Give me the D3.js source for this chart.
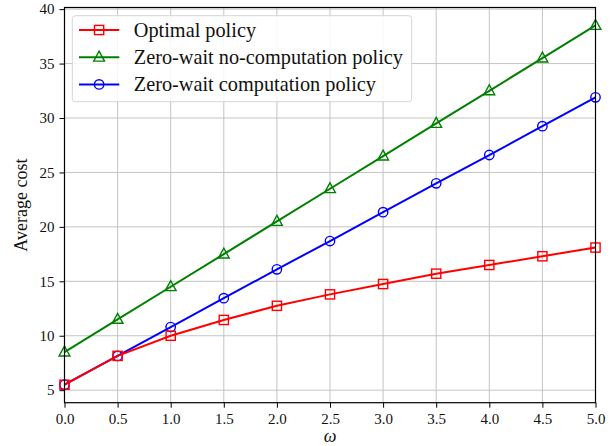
<!DOCTYPE html>
<html>
<head>
<meta charset="utf-8">
<script src="https://cdn.jsdelivr.net/npm/d3@7"></script>
<style>
  body { margin: 0; background: #fff; }
  text { font-family: "Liberation Serif", "Times New Roman", serif; fill: #111; }
</style>
</head>
<body>
<div id="chart"></div>
<script>
// data
var omega = [0, 0.5, 1, 1.5, 2, 2.5, 3, 3.5, 4, 4.5, 5];
var optimalCost = [5.5, 8.15, 10.0, 11.45, 12.75, 13.8, 14.75, 15.7, 16.5, 17.3, 18.1];
var noCompCost = [8.5, 11.5, 14.5, 17.5, 20.5, 23.5, 26.5, 29.5, 32.5, 35.5, 38.5];
var compCost = [5.5, 8.15, 10.8, 13.45, 16.1, 18.7, 21.35, 24.0, 26.6, 29.25, 31.9];
var xTicks = [0, 0.5, 1, 1.5, 2, 2.5, 3, 3.5, 4, 4.5, 5];
var yTicks = [5, 10, 15, 20, 25, 30, 35, 40];
var seriesNames = ["Optimal policy", "Zero-wait no-computation policy", "Zero-wait computation policy"];

var W = 610, H = 446;
var margin = {top: 7.5, right: 14.5, bottom: 43.3, left: 64.5};
var width = W - margin.left - margin.right,
    height = H - margin.top - margin.bottom;

var svg = d3.select("#chart").append("svg")
    .attr("width", W)
    .attr("height", H);

var g = svg.append("g")
    .attr("transform", "translate(" + margin.left + "," + margin.top + ")");

var x = d3.scaleLinear().domain([0, 5]).range([0, width]);
var y = d3.scaleLinear().domain([3.85, 40.15]).range([height, 0]);

// grid
g.append("g").selectAll("line").data(xTicks).enter().append("line")
  .attr("x1", function(d){ return x(d); }).attr("x2", function(d){ return x(d); })
  .attr("y1", 0).attr("y2", height)
  .attr("stroke", "#c4c4c4").attr("stroke-width", 1);
g.append("g").selectAll("line").data(yTicks).enter().append("line")
  .attr("y1", function(d){ return y(d); }).attr("y2", function(d){ return y(d); })
  .attr("x1", 0).attr("x2", width)
  .attr("stroke", "#c4c4c4").attr("stroke-width", 1);

// axes
var xAxis = g.append("g")
  .attr("transform", "translate(0," + height + ")")
  .call(d3.axisBottom(x).tickValues(xTicks).tickFormat(d3.format(".1f")).tickSize(5).tickPadding(6));
var yAxis = g.append("g")
  .call(d3.axisLeft(y).tickValues(yTicks).tickFormat(d3.format("d")).tickSize(5).tickPadding(5));
[xAxis, yAxis].forEach(function(a){
  a.select(".domain").remove();
  a.selectAll("line").attr("stroke", "#000").attr("stroke-width", 1);
  a.selectAll("text").attr("font-size", 15).attr("font-family", "Liberation Serif").attr("fill", "#222");
});

// lines + markers
var line = d3.line()
  .x(function(d, i){ return x(omega[i]); })
  .y(function(d){ return y(d); });

function drawMarker(sel, kind, color) {
  if (kind === "square") {
    sel.append("rect").attr("x", -4.6).attr("y", -4.6).attr("width", 9.2).attr("height", 9.2)
      .attr("fill", "none").attr("stroke", color).attr("stroke-width", 1.4);
  } else if (kind === "circle") {
    sel.append("circle").attr("r", 4.7)
      .attr("fill", "none").attr("stroke", color).attr("stroke-width", 1.4);
  } else {
    sel.append("path").attr("d", "M0,-6L5.4,3.9L-5.4,3.9Z")
      .attr("fill", "none").attr("stroke", color).attr("stroke-width", 1.4);
  }
}

var series = [
  {vals: noCompCost, color: "#008000", marker: "triangle"},
  {vals: compCost, color: "#0000ff", marker: "circle"},
  {vals: optimalCost, color: "#ff0000", marker: "square"}
];

var plot = g.append("g");
series.forEach(function(s){
  plot.append("path").datum(s.vals)
    .attr("d", line)
    .attr("fill", "none")
    .attr("stroke", s.color)
    .attr("stroke-width", 2);
  plot.selectAll(null).data(s.vals).enter().append("g")
    .attr("transform", function(d, i){ return "translate(" + x(omega[i]) + "," + y(d) + ")"; })
    .each(function(){ drawMarker(d3.select(this), s.marker, s.color); });
});

// frame
g.append("rect").attr("width", width).attr("height", height)
  .attr("fill", "none").attr("stroke", "#000").attr("stroke-width", 1.2);

// legend
var legend = g.append("g").attr("transform", "translate(" + (72.3 - margin.left) + "," + (15.7 - margin.top) + ")");
legend.append("rect").attr("width", 339.4).attr("height", 86).attr("rx", 3)
  .attr("fill", "#fff").attr("fill-opacity", 0.85)
  .attr("stroke", "#d6d6d6").attr("stroke-width", 1);
var legendItems = [
  {name: seriesNames[0], color: "#ff0000", marker: "square"},
  {name: seriesNames[1], color: "#008000", marker: "triangle"},
  {name: seriesNames[2], color: "#0000ff", marker: "circle"}
];
legendItems.forEach(function(it, i){
  var row = legend.append("g").attr("transform", "translate(0," + (14.3 + i * 27.2) + ")");
  row.append("line").attr("x1", 6.7).attr("x2", 47).attr("stroke", it.color).attr("stroke-width", 2);
  drawMarker(row.append("g").attr("transform", "translate(26.8,0)"), it.marker, it.color);
  row.append("text").attr("x", 61.5).attr("y", 6.5)
    .attr("font-size", 20.3).text(it.name);
});

// axis labels
svg.append("text")
  .attr("transform", "translate(27," + (margin.top + height / 2) + ") rotate(-90)")
  .attr("text-anchor", "middle")
  .attr("font-size", 18)
  .text("Average cost");
svg.append("text")
  .attr("x", margin.left + width / 2).attr("y", 442)
  .attr("text-anchor", "middle")
  .attr("font-size", 18).attr("font-style", "italic")
  .text("ω");
</script>
</body>
</html>
